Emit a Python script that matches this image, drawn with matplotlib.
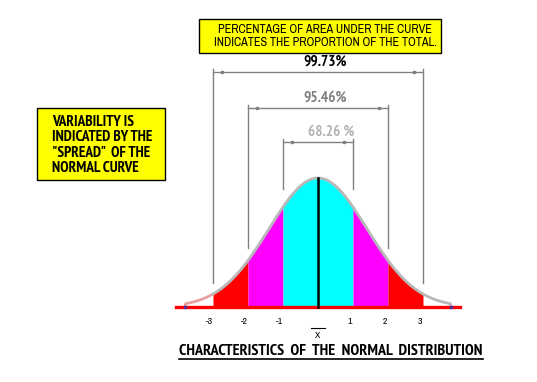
import numpy as np
import matplotlib
matplotlib.use('Agg')
import matplotlib.pyplot as plt
from matplotlib.patches import Rectangle

narrow = ['Archivo Narrow', 'DejaVu Sans']
narrow_bold = ['PT Sans Narrow', 'Asap Condensed', 'DejaVu Sans']
plt.rcParams['font.family'] = narrow
plt.rcParams['font.stretch'] = 'condensed'

# sigma positions and labels along the base line
sigma_pos = [-3, -2, -1, 1, 2, 3]
sigma_labels = ['-3', '-2', '-1', '1', '2', '3']

# coloured bands under the curve (left edge, right edge, colour)
band_left = [-3, -2, -1, 1, 2]
band_right = [-2, -1, 1, 2, 3]
band_colors = ['#ff0000', '#ff00ff', '#00ffff', '#ff00ff', '#ff0000']

# brackets: half width in sigma, label, label colour, height (px above base)
bracket_width = [3, 2, 1]
bracket_text = ['99.73%', '95.46%', '68.26 %']
bracket_color = ['#000000', '#808080', '#b4b4b4']
bracket_y = [235, 199, 165]
label_shift = [7, 7, 13]      # label centre offset from the mean, px
line_bottom = [24, 59, 118]   # where the vertical guide lines stop

# shape of the drawn curve
curve_peak = 129
curve_spread = 1.4
curve_end = 3.8

top_note = 'PERCENTAGE OF AREA UNDER THE CURVE\nINDICATES THE PROPORTION OF THE TOTAL.'
side_note = 'VARIABILITY IS\nINDICATED BY THE\n"SPREAD"  OF THE\nNORMAL CURVE'
title = 'CHARACTERISTICS  OF  THE  NORMAL  DISTRIBUTION'

# 1 sigma = 35 px, centre at x = 318 px, base at y = 307 px
px = 35.0
fig = plt.figure(figsize=(5.37, 3.82), dpi=100)
ax = fig.add_axes([0, 0, 1, 1])
ax.set_xlim(-318 / px, (537 - 318) / px)
ax.set_ylim(-75, 307)
ax.axis('off')


def curve(u):
    return curve_peak * np.exp(-u ** 2 / (2 * curve_spread ** 2))


# filled bands
for l, r, c in zip(band_left, band_right, band_colors):
    u = np.linspace(l, r, 100)
    ax.fill_between(u, 0, curve(u), color=c, lw=0, zorder=2)

# outline of the curve
u = np.linspace(-curve_end, curve_end, 400)
y = curve(u)
y[0] = y[-1] = 0
ax.plot(u[u <= -3], y[u <= -3], color='#e8a0a0', lw=2, zorder=3)
ax.plot(u[u >= -3], y[u >= -3], color='#b8b8b8', lw=2, zorder=3)
ax.plot([-curve_end, curve_end], [0, 0], ls='none', marker='s', ms=2,
        color='#5030a0', zorder=5)

# base line and centre line
ax.plot([-4.06, 4.06], [0, 0], color='#ff0000', lw=2.4, zorder=4)
ax.plot([0, 0], [0, curve_peak], color='black', lw=1.8, zorder=4)

# guide lines and brackets
for w, t, tc, by, ls, lb in zip(bracket_width, bracket_text, bracket_color,
                                bracket_y, label_shift, line_bottom):
    for s in (-w, w):
        ax.plot([s, s], [lb, by + 3], color='#808080', lw=1, zorder=1)
    ax.plot([-w, w], [by, by], color='#808080', lw=1, zorder=1)
    ax.plot([-w + 0.25, w - 0.25], [by, by], ls='none', marker='s', ms=2,
            color='#808080', zorder=1)
    ax.text(ls / px, by + 10, t, color=tc, fontsize=11, fontweight='bold',
            ha='center', va='center', family=narrow_bold)

# tick labels
for p, lab in zip(sigma_pos, sigma_labels):
    ax.text(p - 0.1, -15, lab, fontsize=7, ha='center', va='center')
ax.plot([-0.2, 0.2], [-21, -21], color='black', lw=0.8)
ax.text(0, -28, 'X', fontsize=7, ha='center', va='center')

# yellow notes
ax.add_patch(Rectangle((-119 / px, 254), 242 / px, 34, facecolor='#ffff00',
                       edgecolor='black', lw=1, zorder=6))
ax.text(7 / px, 271, top_note, fontsize=8.8, ha='center', va='center',
        linespacing=1.2, zorder=7)
ax.add_patch(Rectangle((-281 / px, 127), 128 / px, 72, facecolor='#ffff00',
                       edgecolor='black', lw=1, zorder=6))
ax.text(-266 / px, 162, side_note, fontsize=11, fontweight='bold',
        ha='left', va='center', linespacing=1.13, zorder=7, family=narrow_bold)

# title with underline
tt = ax.text(13 / px, -44, title, fontsize=11.5, fontweight='bold',
             ha='center', va='center', family=narrow_bold)
fig.canvas.draw()
bb = tt.get_window_extent().transformed(ax.transData.inverted())
ax.plot([bb.x0, bb.x1], [bb.y0 - 1, bb.y0 - 1], color='black', lw=1.2)

fig.savefig('out.png', dpi=100)
